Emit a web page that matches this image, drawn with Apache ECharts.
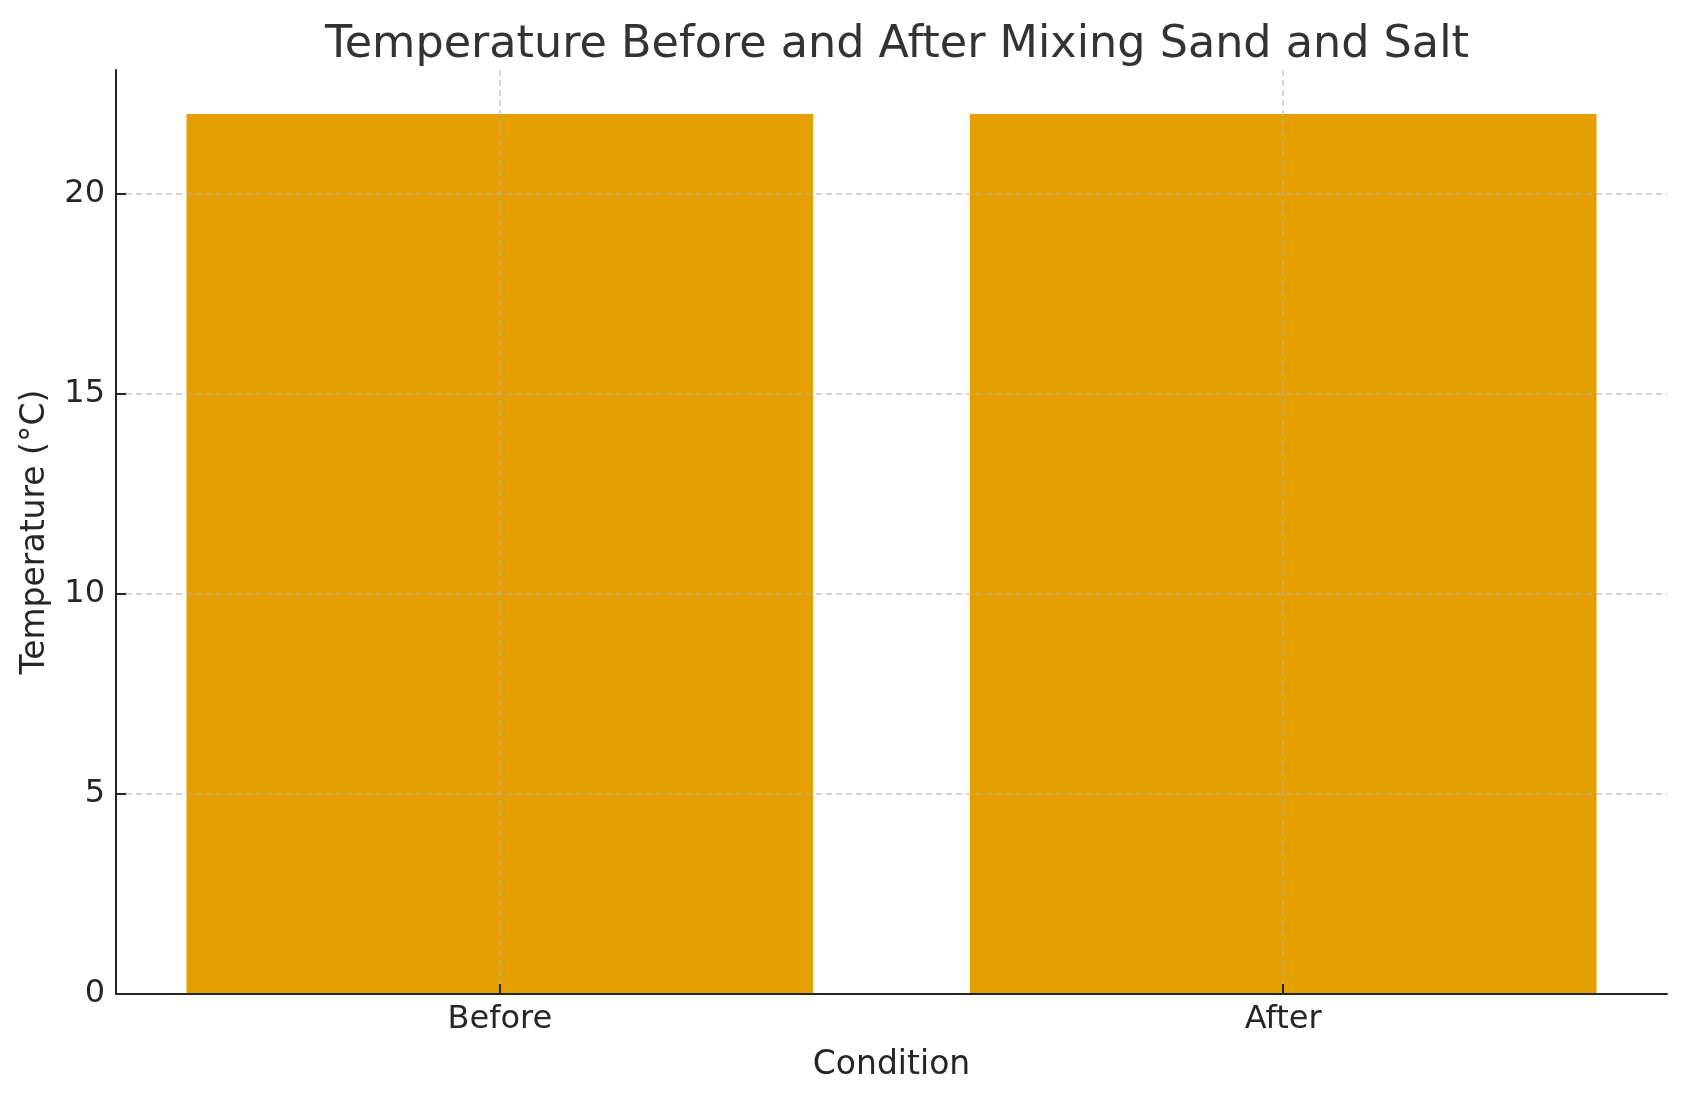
<!DOCTYPE html>
<html>
<head>
<meta charset="utf-8">
<script src="https://cdn.jsdelivr.net/npm/echarts@6/dist/echarts.min.js"></script>
<style>
    html, body {margin: 0; padding: 0; background: #fff;}
    #chart {width: 1686px; height: 1101px;}
</style>
</head>
<body>
<div id="chart"></div>
<script>
let categories = ['Before', 'After'],
    temps = [22, 22],
    yTicks = [0, 5, 10, 15, 20]

let font = 'DejaVu Sans'
let grid = {left: 116, right: 19, top: 70, bottom: 107}
// x positions like matplotlib: bars at 0,1 with width 0.8, 5% margins
let xMin = -0.49, xMax = 1.49
let barPx = 0.8 * (1686 - grid.left - grid.right) / (xMax - xMin)
let xPos = categories.map((c, i) => i)

let chart = echarts.init(document.getElementById('chart'))
let option = {
    animation: false,
    title: {
        text: 'Temperature Before and After Mixing Sand and Salt',
        left: 892,
        textAlign: 'center',
        top: 18,
        textStyle: {fontFamily: font, fontSize: 44.5, fontWeight: 'normal', color: '#333333'}
    },
    grid: grid,
    xAxis: {
        type: 'value',
        min: xMin,
        max: xMax,
        z: 3,
        name: 'Condition',
        nameLocation: 'middle',
        nameGap: 55,
        nameTextStyle: {fontFamily: font, fontSize: 33, color: '#262626'},
        axisLine: {show: true, onZero: false, lineStyle: {color: '#262626', width: 2}},
        axisTick: {show: true, inside: true, length: 10, customValues: xPos, lineStyle: {color: '#262626', width: 2}},
        axisLabel: {
            fontFamily: font, fontSize: 32, color: '#262626', margin: 10,
            customValues: xPos,
            formatter: v => categories[Math.round(v)]
        },
        splitLine: {show: true, lineStyle: {type: [6, 4], color: 'rgba(176,176,176,0.7)', width: 1.5}}
    },
    yAxis: {
        type: 'value',
        min: 0,
        max: 23.1,
        interval: 5,
        z: 3,
        name: 'Temperature (°C)',
        nameLocation: 'middle',
        nameGap: 64,
        nameTextStyle: {fontFamily: font, fontSize: 33, color: '#262626'},
        axisLine: {show: true, onZero: false, lineStyle: {color: '#262626', width: 2}},
        axisTick: {show: true, inside: true, length: 10, customValues: yTicks, lineStyle: {color: '#262626', width: 2}},
        axisLabel: {
            fontFamily: font, fontSize: 32, color: '#262626', margin: 11,
            customValues: yTicks
        },
        splitLine: {show: true, showMinLine: false, lineStyle: {type: [6, 4], color: 'rgba(176,176,176,0.7)', width: 1.5}}
    },
    series: [{
        type: 'bar',
        data: xPos.map((x, i) => [x, temps[i]]),
        barWidth: barPx,
        itemStyle: {color: '#E69F00'}
    }]
}
chart.setOption(option)
</script>
</body>
</html>
